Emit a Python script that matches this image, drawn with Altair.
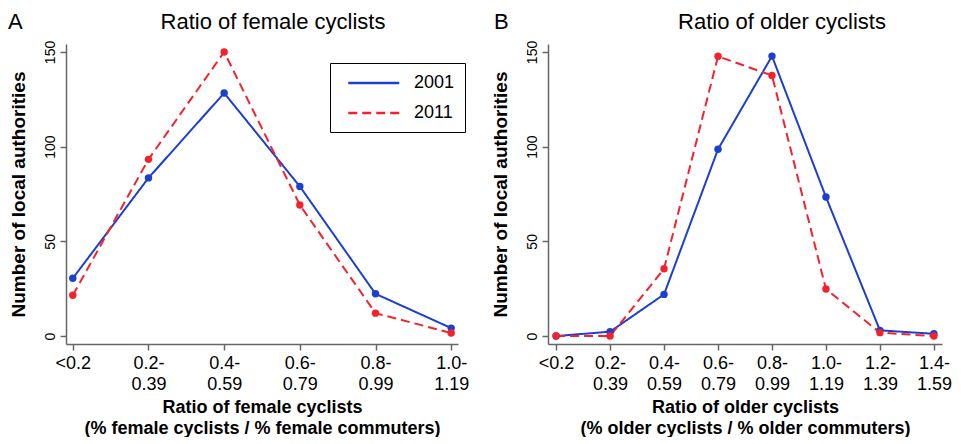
import altair as alt
import pandas as pd

# ---- data ----
cats_a = ["<0.2", "0.2-0.39", "0.4-0.59", "0.6-0.79", "0.8-0.99", "1.0-1.19"]
fem_2001 = [30.5, 83.5, 128.3, 79, 22.3, 4.2]
fem_2011 = [21.5, 93.3, 150, 69.2, 12.1, 1.6]

cats_b = ["<0.2", "0.2-0.39", "0.4-0.59", "0.6-0.79", "0.8-0.99", "1.0-1.19", "1.2-1.39", "1.4-1.59"]
old_2001 = [0, 2.3, 22, 98.6, 147.8, 73.4, 3, 1.2]
old_2011 = [0, 0, 35.5, 147.7, 137.6, 24.8, 1.8, 0]

years = ["2001", "2011"]
colors = ["#1c3fd2", "#f5222d"]
dashes = [[1, 0], [9, 5]]

FONT = "Liberation Sans"

label_expr = ("indexof(datum.label,'-') > 0 ? "
              "[slice(datum.label,0,indexof(datum.label,'-')+1), "
              "slice(datum.label,indexof(datum.label,'-')+1)] : datum.label")


def long_df(cats, a, b):
    rows = []
    for c, v in zip(cats, a):
        rows.append({"cat": c, "year": "2001", "n": v})
    for c, v in zip(cats, b):
        rows.append({"cat": c, "year": "2011", "n": v})
    return pd.DataFrame(rows)


def panel(cats, a, b, title, xtitle, letter, pad, title_x, show_legend, width):
    df = long_df(cats, a, b)
    x = alt.X("cat:N", sort=cats,
              scale=alt.Scale(type="point", padding=pad),
              axis=alt.Axis(title=xtitle, labelAngle=0, labelExpr=label_expr,
                            labelFontSize=18, labelLineHeight=21, labelBaseline="top",
                            labelPadding=4, tickSize=6, titleFontSize=18,
                            titleFontWeight="bold", titleLineHeight=21,
                            titlePadding=5))
    y = alt.Y("n:Q", scale=alt.Scale(domain=[-4.2, 154.2], nice=False, zero=False),
              axis=alt.Axis(values=[0, 50, 100, 150], title="Number of local authorities",
                            labelAngle=270, labelAlign="center", labelBaseline="bottom",
                            labelFontSize=14, labelPadding=3, tickSize=6,
                            titleFontSize=19, titleFontWeight="bold", titleX=-38))
    if show_legend:
        leg = alt.Legend(orient="none", legendX=264, legendY=19, title=None,
                         strokeColor="black", padding=10,
                         symbolType="M-0.2,0H5.63", symbolSize=306, symbolStrokeWidth=2.5,
                         labelFontSize=18, labelOffset=54, rowPadding=11,
                         fillColor="white")
    else:
        leg = None
    color = alt.Color("year:N", scale=alt.Scale(domain=years, range=colors), legend=leg)
    dash = alt.StrokeDash("year:N", scale=alt.Scale(domain=years, range=dashes), legend=leg)

    base = alt.Chart(df)
    lines = base.mark_line(strokeWidth=2).encode(x=x, y=y, color=color, strokeDash=dash,
                                                  detail="year:N")
    pts = base.mark_point(filled=True, size=55, opacity=1).encode(
        x=x, y=y, color=alt.Color("year:N", scale=alt.Scale(domain=years, range=colors),
                                  legend=None))
    lab = alt.Chart(pd.DataFrame({"t": [letter]})).mark_text(
        align="left", baseline="alphabetic", fontSize=22, font=FONT, color="black"
    ).encode(text="t:N", x=alt.value(-58 if letter == "A" else -54), y=alt.value(-15))
    ttl = alt.Chart(pd.DataFrame({"t": [title]})).mark_text(
        align="center", baseline="alphabetic", fontSize=22, font=FONT, color="black"
    ).encode(text="t:N", x=alt.value(title_x), y=alt.value(-15))
    return alt.layer(lines, pts, lab, ttl).properties(width=width, height=300)


pa = panel(cats_a, fem_2001, fem_2011, "Ratio of female cyclists",
           ["Ratio of female cyclists", "(% female cyclists / % female commuters)"],
           "A", 0.09, 207, True, 392)
pb = panel(cats_b, old_2001, old_2011, "Ratio of older cyclists",
           ["Ratio of older cyclists", "(% older cyclists / % older commuters)"],
           "B", 0.15, 234, False, 394)

chart = alt.hconcat(pa, pb, spacing=22).resolve_scale(
    color="independent", strokeDash="independent"
).properties(padding={"top": 3, "left": 0, "right": 0, "bottom": 0}).configure(
    font=FONT).configure_view(stroke=None).configure_axis(
    grid=False, domainColor="#666666", domainWidth=1.5, tickColor="#666666",
    tickWidth=1.5, labelColor="black", titleColor="black", labelFont=FONT, titleFont=FONT
).configure_legend(labelFont=FONT, labelColor="black")

chart.save("out.html", embed_options={"renderer": "svg", "actions": False})
